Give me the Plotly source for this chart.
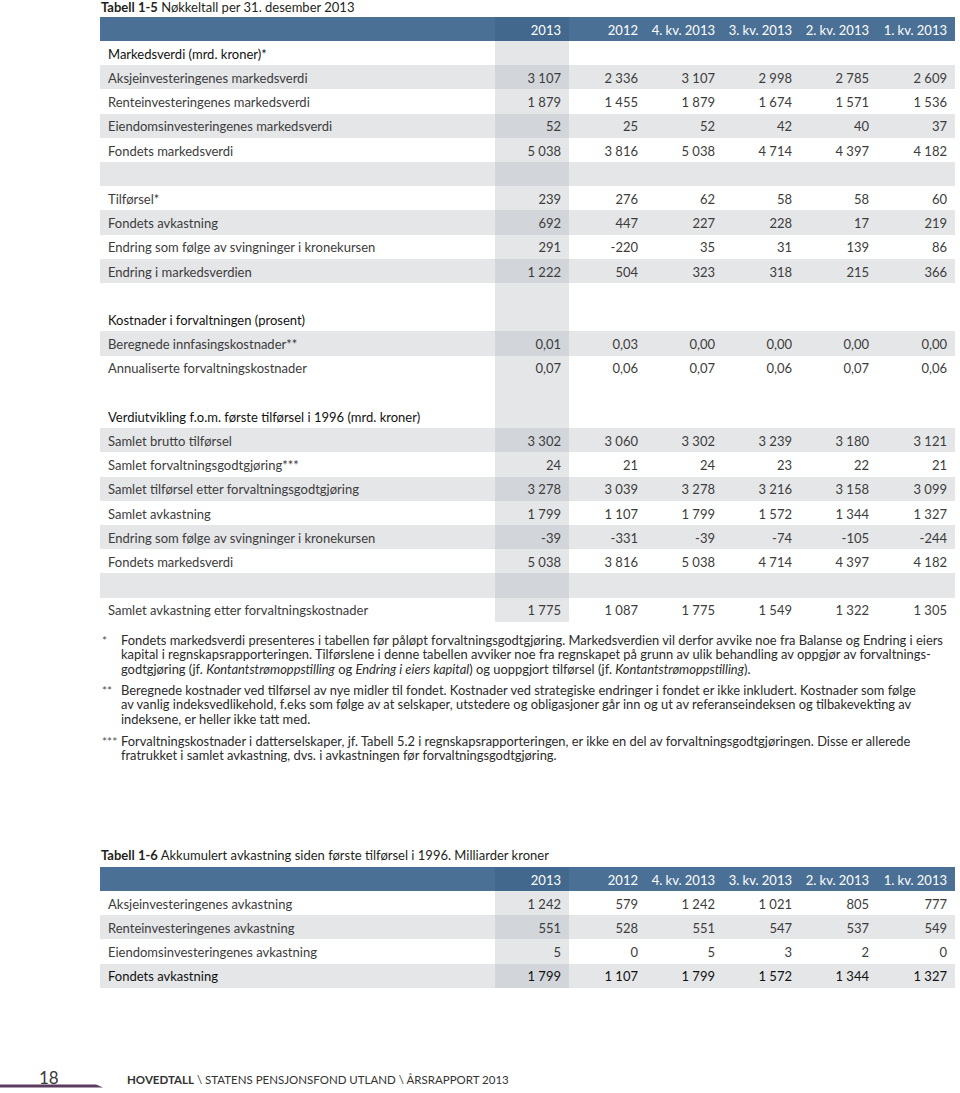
import plotly.graph_objects as go

# ---------------- DATA ----------------
columns = ["2013", "2012", "4. kv. 2013", "3. kv. 2013", "2. kv. 2013", "1. kv. 2013"]

t15_labels = [
    "Markedsverdi (mrd. kroner)*",
    "Aksjeinvesteringenes markedsverdi",
    "Renteinvesteringenes markedsverdi",
    "Eiendomsinvesteringenes markedsverdi",
    "Fondets markedsverdi",
    "",
    "Tilførsel*",
    "Fondets avkastning",
    "Endring som følge av svingninger i kronekursen",
    "Endring i markedsverdien",
    "",
    "Kostnader i forvaltningen (prosent)",
    "Beregnede innfasingskostnader**",
    "Annualiserte forvaltningskostnader",
    "",
    "Verdiutvikling f.o.m. første tilførsel i 1996 (mrd. kroner)",
    "Samlet brutto tilførsel",
    "Samlet forvaltningsgodtgjøring***",
    "Samlet tilførsel etter forvaltningsgodtgjøring",
    "Samlet avkastning",
    "Endring som følge av svingninger i kronekursen",
    "Fondets markedsverdi",
    "",
    "Samlet avkastning etter forvaltningskostnader",
]

t15_2013 = [None, 3107, 1879, 52, 5038, None, 239, 692, 291, 1222, None, None, 0.01, 0.07, None,
            None, 3302, 24, 3278, 1799, -39, 5038, None, 1775]
t15_2012 = [None, 2336, 1455, 25, 3816, None, 276, 447, -220, 504, None, None, 0.03, 0.06, None,
            None, 3060, 21, 3039, 1107, -331, 3816, None, 1087]
t15_q4 = [None, 3107, 1879, 52, 5038, None, 62, 227, 35, 323, None, None, 0.00, 0.07, None,
          None, 3302, 24, 3278, 1799, -39, 5038, None, 1775]
t15_q3 = [None, 2998, 1674, 42, 4714, None, 58, 228, 31, 318, None, None, 0.00, 0.06, None,
          None, 3239, 23, 3216, 1572, -74, 4714, None, 1549]
t15_q2 = [None, 2785, 1571, 40, 4397, None, 58, 17, 139, 215, None, None, 0.00, 0.07, None,
          None, 3180, 22, 3158, 1344, -105, 4397, None, 1322]
t15_q1 = [None, 2609, 1536, 37, 4182, None, 60, 219, 86, 366, None, None, 0.00, 0.06, None,
          None, 3121, 21, 3099, 1327, -244, 4182, None, 1305]

t16_labels = [
    "Aksjeinvesteringenes avkastning",
    "Renteinvesteringenes avkastning",
    "Eiendomsinvesteringenes avkastning",
    "Fondets avkastning",
]
t16_2013 = [1242, 551, 5, 1799]
t16_2012 = [579, 528, 0, 1107]
t16_q4 = [1242, 551, 5, 1799]
t16_q3 = [1021, 547, 3, 1572]
t16_q2 = [805, 537, 2, 1344]
t16_q1 = [777, 549, 0, 1327]

notes_marks = ["*", "**", "***"]
notes_lines = [
    ["Fondets markedsverdi presenteres i tabellen før påløpt forvaltningsgodtgjøring. Markedsverdien vil derfor avvike noe fra Balanse og Endring i eiers",
     "kapital i regnskapsrapporteringen. Tilførslene i denne tabellen avviker noe fra regnskapet på grunn av ulik behandling av oppgjør av forvaltnings-",
     "godtgjøring (jf. <i>Kontantstrømoppstilling</i> og <i>Endring i eiers kapital</i>) og uoppgjort tilførsel (jf. <i>Kontantstrømoppstilling</i>)."],
    ["Beregnede kostnader ved tilførsel av nye midler til fondet. Kostnader ved strategiske endringer i fondet er ikke inkludert. Kostnader som følge",
     "av vanlig indeksvedlikehold, f.eks som følge av at selskaper, utstedere og obligasjoner går inn og ut av referanseindeksen og tilbakevekting av",
     "indeksene, er heller ikke tatt med."],
    ["Forvaltningskostnader i datterselskaper, jf. Tabell 5.2 i regnskapsrapporteringen, er ikke en del av forvaltningsgodtgjøringen. Disse er allerede",
     "fratrukket i samlet avkastning, dvs. i avkastningen før forvaltningsgodtgjøring."],
]

# ---------------- STYLE ----------------
W, H = 960, 1093
FONT = "Lato"
BLUE = "#4b7096"
BLUE_HL = "#43688e"
GRAY = "#e5e6e8"
HL_LIGHT = "#e4e6e8"
HL_DARK = "#d2d5d9"
WHITE = "#ffffff"
TXT = "#3c3c3c"
TXT_DARK = "#111111"
NBSP = "\u00a0"

t15_shade = [0, 1, 0, 1, 0, 1, 0, 1, 0, 1, 0, 0, 1, 0, 0, 0, 1, 0, 1, 0, 1, 0, 1, 0]
t15_heads = [0, 11, 15]
t16_shade = [0, 1, 0, 1]
t16_heads = [3]
notes_top = [640, 690, 741]
NOTE_LH = 14.4


def fmt(v):
    if v is None:
        return ""
    if isinstance(v, float):
        return f"{v:.2f}".replace(".", ",")
    s = f"{abs(v):,}".replace(",", NBSP)
    return ("-" if v < 0 else "") + s


def py(px):
    return 1 - px / H


def px_x(px):
    return px / W


def make_table(labels, cols, shade, heads, top, bottom):
    n = len(labels)
    values = [labels] + [[fmt(v) for v in c] for c in cols]
    fills = [[GRAY if s else WHITE for s in shade], [HL_DARK if s else HL_LIGHT for s in shade]]
    for _ in cols[1:]:
        fills.append([GRAY if s else WHITE for s in shade])
    colors = [[TXT_DARK if i in heads else TXT for i in range(n)] for _ in range(len(cols) + 1)]
    return go.Table(
        domain=dict(x=[px_x(100), px_x(955)], y=[py(bottom), py(top)]),
        columnwidth=[395, 74, 77, 77, 77, 77, 78],
        header=dict(
            values=[""] + [c.replace(" ", NBSP) for c in columns],
            fill=dict(color=[BLUE, BLUE_HL] + [BLUE] * 5),
            line=dict(width=0, color=BLUE),
            font=dict(family=FONT, size=13, color="white"),
            align=["left"] + ["right"] * 6,
            height=24,
        ),
        cells=dict(
            values=values,
            fill=dict(color=fills),
            line=dict(width=0, color=WHITE),
            font=dict(family=FONT, size=13, color=colors),
            align=["left"] + ["right"] * 6,
            height=24.2,
        ),
    )


fig = go.Figure()
fig.add_trace(make_table(t15_labels, [t15_2013, t15_2012, t15_q4, t15_q3, t15_q2, t15_q1],
                         t15_shade, t15_heads, 17, 630))
fig.add_trace(make_table(t16_labels, [t16_2013, t16_2012, t16_q4, t16_q3, t16_q2, t16_q1],
                         t16_shade, t16_heads, 867, 1000))

ann = []


def text(x, y, s, size=13, color="#231f20", anchor="left"):
    ann.append(dict(x=px_x(x), y=py(y), xref="paper", yref="paper", text=s, showarrow=False,
                    xanchor=anchor, yanchor="middle", align="left",
                    font=dict(family=FONT, size=size, color=color)))


text(99, 7.5, "<b>Tabell 1-5</b> Nøkkeltall per 31. desember 2013")
text(99, 855, "<b>Tabell 1-6</b> Akkumulert avkastning siden første tilførsel i 1996. Milliarder kroner")

for mark, top, lines in zip(notes_marks, notes_top, notes_lines):
    text(100, top, mark, size=12, color="#555555")
    for i, line in enumerate(lines):
        text(119, top + i * NOTE_LH, line, size=12.9, color="#2b2b2b")

text(49, 1077, "18", size=17, color="#3a3a3a", anchor="center")
text(125, 1079, "<b>HOVEDTALL</b> \\ STATENS PENSJONSFOND UTLAND \\ ÅRSRAPPORT 2013",
     size=11.5, color="#333333")

fig.add_shape(type="path", xref="paper", yref="paper",
              path=f"M 0 {py(1084.5)} L {px_x(96)} {py(1084.5)} L {px_x(103)} {py(1087.5)} L 0 {py(1087.5)} Z",
              fillcolor="#5c3c5e", line=dict(width=0))

fig.update_layout(
    width=W, height=H, margin=dict(l=0, r=0, t=0, b=0),
    paper_bgcolor="white", plot_bgcolor="white",
    annotations=ann, showlegend=False,
)
fig.write_html("out.html", config={"displayModeBar": False},
               post_script="document.body.style.margin='0';")
